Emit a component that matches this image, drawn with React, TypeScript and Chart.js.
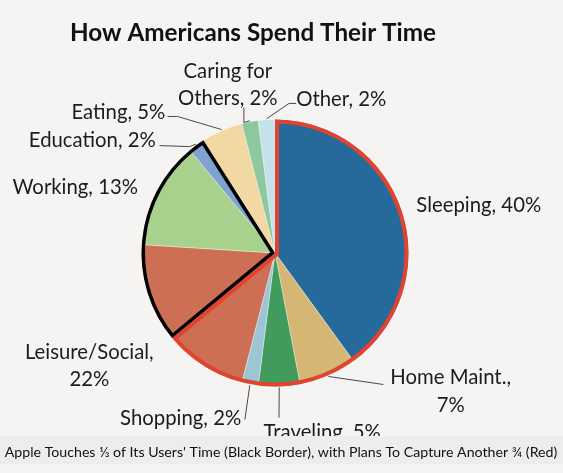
import React, { useEffect, useRef } from 'react';
import { Chart, registerables } from 'chart.js';

Chart.register(...registerables);

const TITLE = 'How Americans Spend Their Time';
const CAPTION = "Apple Touches \u2153 of Its Users' Time (Black Border), with Plans To Capture Another \u00BE (Red)";

const CATEGORIES = ['Sleeping', 'Home Maint.', 'Traveling', 'Shopping', 'Leisure/Social', 'Working', 'Education', 'Eating', 'Caring for Others', 'Other'];
const PERCENTS = [40, 7, 5, 2, 22, 13, 2, 5, 2, 2];
// Leisure/Social is split: first part inside the red group, second part inside the black group
const LEISURE_SPLIT = [10, 12];
const COLORS = ['#266a9b', '#d5b675', '#409b5c', '#9cc5d5', '#cd6f54', '#a9d18e', '#7fa2cf', '#f2d8a3', '#8fc79f', '#c3e2ec'];
const LABEL_LINES = [
  ['Sleeping, 40%'],
  ['Home Maint.,', '7%'],
  ['Traveling, 5%'],
  ['Shopping, 2%'],
  ['Leisure/Social,', '22%'],
  ['Working, 13%'],
  ['Education, 2%'],
  ['Eating, 5%'],
  ['Caring for', 'Others, 2%'],
  ['Other, 2%'],
];

// label layout: text centre offset from pie centre (px at radius 133), optional leader polyline after arc point
const LABEL_LAYOUT: { dx: number; dy: number; leader?: number[][] }[] = [
  { dx: 203, dy: -47 },
  { dx: 175, dy: 124, leader: [[108, 131]] },
  { dx: 47, dy: 179, leader: [[4, 164]] },
  { dx: -94, dy: 165, leader: [[-30, 166]] },
  { dx: -185, dy: 99 },
  { dx: -199, dy: -65 },
  { dx: -182, dy: -112, leader: [[-85, -106], [-115, -107]] },
  { dx: -156, dy: -140, leader: [[-97, -136], [-107, -136]] },
  { dx: -47, dy: -181, leader: [[-31, -130], [-31, -145]] },
  { dx: 66, dy: -153, leader: [[14, -149], [21, -149]] },
];

const BG = '#f6f4f2';
const BAND = '#efedeb';
const FONT = 'Lato, "Open Sans", sans-serif';

function buildSlices() {
  const values: number[] = [];
  const colors: string[] = [];
  const cat: number[] = [];
  const group: string[] = [];
  let inBlack = false;
  CATEGORIES.forEach((c, i) => {
    if (c === 'Leisure/Social') {
      values.push(LEISURE_SPLIT[0]); colors.push(COLORS[i]); cat.push(i); group.push('red');
      values.push(LEISURE_SPLIT[1]); colors.push(COLORS[i]); cat.push(i); group.push('black');
      inBlack = true;
    } else {
      values.push(PERCENTS[i]); colors.push(COLORS[i]); cat.push(i);
      group.push(c === 'Working' || c === 'Education' ? 'black' : (inBlack ? 'none' : 'red'));
    }
  });
  return { values, colors, cat, group };
}

function fitSize(ctx: CanvasRenderingContext2D, text: string, target: number, weight: string) {
  ctx.font = `${weight} 100px ${FONT}`;
  const w = ctx.measureText(text).width;
  return (100 * target) / w;
}

export default function App() {
  const ref = useRef<HTMLCanvasElement | null>(null);
  useEffect(() => {
    document.body.style.margin = '0';
    const canvas = ref.current!;
    const slices = buildSlices();

    const decor = {
      id: 'decor',
      beforeDraw(chart: any) {
        const ctx = chart.ctx as CanvasRenderingContext2D;
        ctx.save();
        ctx.fillStyle = BG;
        ctx.fillRect(0, 0, chart.width, chart.height);
        ctx.restore();
      },
      afterDatasetsDraw(chart: any) {
        const ctx = chart.ctx as CanvasRenderingContext2D;
        const arcs = chart.getDatasetMeta(0).data;
        const groups: Record<string, { s: number; e: number }> = {};
        let cx = 0, cy = 0, R = 0;
        arcs.forEach((a: any, i: number) => {
          const p = a.getProps(['x', 'y', 'startAngle', 'endAngle', 'outerRadius'], true);
          cx = p.x; cy = p.y; R = p.outerRadius;
          const g = slices.group[i];
          if (g === 'none') return;
          if (!groups[g]) groups[g] = { s: p.startAngle, e: p.endAngle };
          else groups[g].e = p.endAngle;
        });
        const drawGroup = (g: string, color: string, w: number) => {
          const gr = groups[g];
          if (!gr) return;
          const path = new Path2D();
          path.moveTo(cx, cy);
          path.arc(cx, cy, R, gr.s, gr.e);
          path.closePath();
          ctx.save();
          ctx.clip(path);
          ctx.strokeStyle = color;
          ctx.lineWidth = w * 2;
          ctx.lineJoin = 'miter';
          ctx.stroke(path);
          ctx.restore();
        };
        drawGroup('red', '#e2432e', 4);
        drawGroup('black', '#000000', 3.5);
      },
      afterDraw(chart: any) {
        const ctx = chart.ctx as CanvasRenderingContext2D;
        const arcs = chart.getDatasetMeta(0).data;
        let cx = 0, cy = 0, R = 0;
        const catAngles: Record<number, { s: number; e: number }> = {};
        arcs.forEach((a: any, i: number) => {
          const p = a.getProps(['x', 'y', 'startAngle', 'endAngle', 'outerRadius'], true);
          cx = p.x; cy = p.y; R = p.outerRadius;
          const c = slices.cat[i];
          if (!catAngles[c]) catAngles[c] = { s: p.startAngle, e: p.endAngle };
          else catAngles[c].e = p.endAngle;
        });
        const k = R / 133;
        ctx.save();
        // title
        const tSize = fitSize(ctx, TITLE, 366, 'bold');
        ctx.font = `bold ${tSize}px ${FONT}`;
        ctx.fillStyle = '#111111';
        ctx.textAlign = 'center';
        ctx.textBaseline = 'middle';
        ctx.fillText(TITLE, 253, 33);

        // labels
        const lSize = fitSize(ctx, LABEL_LINES[0][0], 125, 'normal');
        const lineH = 27.5;
        CATEGORIES.forEach((_, i) => {
          const lay = LABEL_LAYOUT[i];
          const ang = catAngles[i];
          if (lay.leader && ang) {
            const m = (ang.s + ang.e) / 2;
            ctx.beginPath();
            ctx.moveTo(cx + (R + 1) * Math.cos(m), cy + (R + 1) * Math.sin(m));
            lay.leader.forEach(([x, y]) => ctx.lineTo(cx + x * k, cy + y * k));
            ctx.strokeStyle = '#4a4a4a';
            ctx.lineWidth = 1;
            ctx.stroke();
          }
          ctx.font = `normal ${lSize}px ${FONT}`;
          ctx.fillStyle = '#1c1c1c';
          ctx.textAlign = 'center';
          ctx.textBaseline = 'middle';
          LABEL_LINES[i].forEach((line, j) => {
            ctx.fillText(line, cx + lay.dx * k, cy + lay.dy * k + j * lineH);
          });
        });

        // caption band
        ctx.fillStyle = BAND;
        ctx.fillRect(0, 436, chart.width, 28);
        const cSize = fitSize(ctx, CAPTION, 553, 'normal');
        ctx.font = `normal ${cSize}px ${FONT}`;
        ctx.fillStyle = '#111111';
        ctx.textAlign = 'center';
        ctx.textBaseline = 'middle';
        ctx.fillText(CAPTION, 281, 452);
        ctx.restore();
      },
    };

    const chart = new Chart(canvas, {
      type: 'pie',
      data: {
        labels: slices.cat.map((c) => CATEGORIES[c]),
        datasets: [
          {
            data: slices.values,
            backgroundColor: slices.colors,
            borderColor: 'rgba(255,255,255,0.35)',
            borderWidth: 1,
          },
        ],
      },
      options: {
        responsive: false,
        animation: false,
        layout: { padding: { left: 141, right: 154, top: 119, bottom: 86 } },
        plugins: {
          legend: { display: false },
          tooltip: { enabled: false },
          title: { display: false },
        },
      },
      plugins: [decor],
    });
    return () => chart.destroy();
  }, []);

  return (
    <div style={{ position: 'absolute', left: 0, top: 0, width: 563, height: 473 }}>
      <canvas ref={ref} width={563} height={473} style={{ width: 563, height: 473, display: 'block' }} />
    </div>
  );
}
